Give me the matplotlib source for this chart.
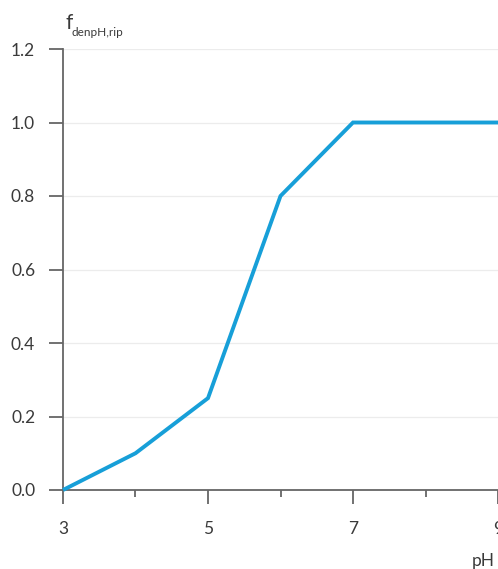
import matplotlib.pyplot as plt
from matplotlib.ticker import MultipleLocator

ph = [3, 4, 5, 6, 7, 9]
f_den = [0.0, 0.10, 0.25, 0.80, 1.0, 1.0]
x_ticks = [3, 5, 7, 9]
y_ticks = [0.0, 0.2, 0.4, 0.6, 0.8, 1.0, 1.2]

plt.rcParams['font.family'] = ['Lato', 'DejaVu Sans']

fig = plt.figure(figsize=(4.98, 5.69), dpi=100)
ax = fig.add_axes([63 / 498, 79 / 569, 435 / 498, 441 / 569])

ax.plot(ph, f_den, color='#179fd8', linewidth=2.8, solid_capstyle='butt',
        solid_joinstyle='miter', zorder=3, clip_on=False)

ax.set_xlim(3, 9)
ax.set_ylim(0, 1.2)
ax.set_xticks(x_ticks)
ax.set_xticklabels([str(t) for t in x_ticks])
ax.xaxis.set_minor_locator(MultipleLocator(1))
ax.set_yticks(y_ticks)
ax.set_yticklabels([f'{t:.1f}' for t in y_ticks])

ax.yaxis.grid(True, color='#ececec', linewidth=0.9)
ax.set_axisbelow(True)

for side in ['top', 'right']:
    ax.spines[side].set_visible(False)
for side in ['left', 'bottom']:
    ax.spines[side].set_color('#666666')
    ax.spines[side].set_linewidth(1.3)

ax.tick_params(axis='both', which='major', direction='out', length=10,
               width=1.3, color='#666666', labelsize=12.5,
               labelcolor='#3a3a3a')
ax.tick_params(axis='x', which='major', pad=12)
ax.tick_params(axis='y', which='major', pad=10)
ax.tick_params(axis='x', which='minor', direction='out', length=5,
               width=1.3, color='#666666')

fig.text(65 / 498, 1 - 23 / 569, 'f', fontsize=15, color='#3a3a3a',
         va='center', ha='left')
fig.text(71 / 498, 1 - 33 / 569, 'denpH,rip', fontsize=8.5, color='#3a3a3a',
         va='center', ha='left')
fig.text(472 / 498, 1 - 561 / 569, 'pH', fontsize=12.5, color='#3a3a3a',
         va='center', ha='left')

fig.savefig('out.png', dpi=100)
